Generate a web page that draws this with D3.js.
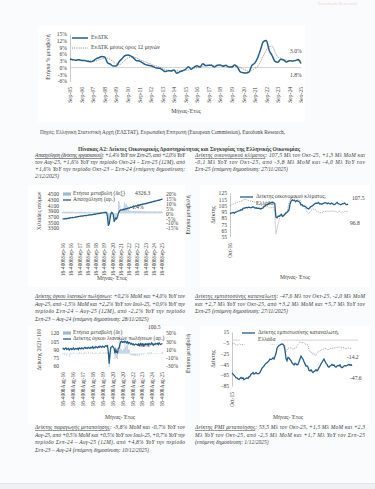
<!DOCTYPE html>
<html><head><meta charset="utf-8">
<script src="https://cdn.jsdelivr.net/npm/d3@7"></script>
<style>body{margin:0;background:#fbfbfc;overflow:hidden}svg{display:block}</style>
</head><body>
<svg id="c" width="375" height="489"></svg>
<script>
// ---------- DATA ----------
// Top chart: HICP annual % change, quarterly from Sep-05 to Sep-25
const hicp = [3.8,3.5, 3.3,3.5,3.2,3.2, 2.8,2.6,2.9,3.9, 4.4,4.9,4.7,2.2, 1.5,0.7,0.7,2.6, 3.9,5.3,5.6,5.2,
  4.3,3.1,2.9,2.2, 1.4,1.0,0.8,0.3, -0.2,-0.3,-1.0,-1.8, -1.4,-1.5,-1.1,-2.5, -1.9,-1.4,-0.8,0.4,
  -0.7,0.2,0.8,0.3, 1.7,0.9,1.0,1.0, 0.2,1.0,1.1,0.6, 1.0,0.2,0.2,1.1, 0.2,-1.9,-2.3,-2.4,
  -2.0,1.0,2.0,4.4, 8.0,11.6,12.1,7.6, 5.4,2.8,2.4,3.7, 3.4,2.5,3.1,2.9, 3.1,3.6,1.8];
const hicpAvg = [3.5,3.5, 3.4,3.4,3.3,3.3, 3.2,3.0,2.9,3.0, 3.4,3.8,4.2,4.2, 3.6,2.6,1.6,1.3, 2.0,3.2,4.3,4.7,
  4.8,4.3,3.7,3.1, 2.6,2.0,1.6,1.0, 0.7,0.2,-0.2,-0.9, -1.2,-1.3,-1.4,-1.4, -1.6,-1.4,-1.2,-1.1,
  -0.5,-0.2,0.0,0.0, 0.5,0.8,1.1,1.1, 0.8,0.8,0.8,0.8, 0.8,0.6,0.5,0.5, 0.6,0.0,-0.7,-1.3,
  -1.8,-1.3,-0.4,0.6, 2.7,5.3,7.9,9.3, 9.6,7.0,4.8,4.2, 3.5,3.3,3.1,3.0, 3.0,3.1,3.0];
const topYTicks = [-6,-3,0,3,6,9,12,15];
const topXYears = d3.range(2005, 2026);

// Employment (thousands), monthly Sep-15 .. Sep-25
const employment = [3620,3625,3618,3630,
 3635,3628,3640,3650,3645,3660,3655,3662,3670,3665,3672,3680,
 3690,3685,3700,3705,3712,3708,3720,3725,3718,3730,3735,3740,
 3745,3738,3750,3760,3755,3765,3770,3762,3775,3780,3790,3785,
 3795,3800,3805,3812,3808,3820,3830,3825,3835,3840,3850,3845,
 3855,3840,3700,3380,3450,3620,3800,3850,3830,3760,3520,3600,
 3650,3620,3700,3820,3880,3920,3940,3935,3950,3960,3945,3970,
 3980,3975,3990,4010,4000,4020,4035,4030,4045,4060,4050,4070,
 4080,4075,4090,4110,4100,4120,4130,4125,4140,4150,4145,4160,
 4170,4165,4180,4195,4190,4205,4215,4210,4225,4240,4235,4250,
 4260,4255,4270,4285,4280,4295,4305,4310,4326.3];
const employmentYoY = [1.8,2.0,1.5,1.9,
 2.1,1.5,2.0,1.8,1.6,2.2,1.5,1.8,2.0,1.2,1.6,1.4,
 1.5,1.6,1.6,1.5,1.8,1.3,1.8,1.7,1.3,1.8,1.7,1.6,
 1.5,1.4,1.4,1.5,1.2,1.6,1.4,1.0,1.5,1.3,1.5,1.2,
 1.3,1.6,1.5,1.4,1.4,1.4,1.6,1.7,1.6,1.6,1.6,1.6,
 1.6,1.0,-2.8,-11.3,-9.5,-5.2,-0.8,0.7,-0.1,-2.1,-8.5,-6.3,
 -5.3,-5.7,0.0,13.0,12.4,8.3,3.6,2.2,3.1,5.3,12.1,10.3,
 9.0,9.9,7.8,5.0,3.0,3.1,2.4,2.4,2.4,2.5,2.6,2.5,
 2.5,2.5,2.5,2.5,2.5,2.5,2.3,2.4,2.4,2.2,2.4,2.2,
 2.2,2.2,2.2,2.1,2.2,2.1,2.1,2.1,2.1,2.2,2.2,2.2,
 2.1,2.1,2.1,2.0,2.1,2.1,2.1,2.3,1.4];
const empLeftTicks = [3300,3500,3700,3900,4100,4300,4500];
const empRightTicks = [-15,-10,-5,0,5,10,15,20];
const empXLabels = ["18-4008Sep-16","18-4008Sep-16","18-4008Sep-17","18-4008Sep-18","18-4008Sep-18","18-4008Sep-19","18-4008Sep-20","18-4008Sep-21","18-4008Sep-22","18-4008Sep-22","18-4008Sep-23","18-4008Sep-24","18-4008Sep-25"];

// Economic sentiment, monthly Oct-16 .. Oct-25
const esiGreece = [92.0,93.0,93.5,
 94.0,93.0,94.5,95.0,96.0,96.5,97.0,98.5,98.0,100.5,101.0,101.5,
 102.0,101.5,102.5,102.0,101.5,102.0,103.0,102.0,101.0,101.5,100.5,101.0,
 100.5,99.5,100.5,101.0,103.0,104.5,106.0,106.0,107.5,108.5,109.5,110.0,
 110.5,109.5,108.0,87.0,85.5,88.0,88.0,89.5,91.0,88.0,89.0,91.0,
 93.0,94.0,96.0,98.0,108.0,112.5,114.0,113.0,113.5,111.0,113.0,112.0,
 111.5,110.0,106.0,106.5,104.0,104.5,103.5,101.5,100.5,99.5,101.5,103.5,
 104.0,105.5,107.0,108.5,109.0,108.5,110.0,107.5,108.0,107.0,108.0,109.0,
 109.5,109.0,108.0,109.0,108.0,107.5,109.0,108.0,106.5,107.0,108.5,110.0,
 108.0,107.5,106.5,107.0,108.0,108.0,109.0,107.0,106.2,107.5];
const esiEU = [104.5,105.5,107.0,
 107.5,108.5,108.5,109.5,110.0,110.5,111.5,112.0,112.5,114.0,114.5,114.5,
 114.5,113.5,112.5,112.5,112.0,111.5,111.5,110.5,110.5,109.5,108.5,107.5,
 106.5,105.5,105.5,104.0,105.5,103.5,102.5,104.0,102.5,101.5,101.5,101.5,
 102.5,103.0,94.0,60.0,67.5,75.5,82.5,87.5,90.5,90.5,87.5,90.5,
 91.5,93.5,100.5,110.5,114.0,117.5,118.5,117.5,117.5,118.0,117.5,115.5,
 112.5,114.0,108.0,105.0,105.0,104.0,99.0,97.5,93.5,92.5,94.0,96.5,
 99.8,99.5,99.0,99.0,96.5,95.5,94.5,93.5,93.5,93.5,93.8,96.4,
 96.2,95.4,96.3,95.6,96.0,95.9,95.8,96.6,96.3,95.6,95.8,93.7,
 95.2,96.3,95.2,93.6,94.8,94.0,95.8,95.2,95.5,96.8];
const esiTicks = [55,65,75,85,95,105,115,125];

// Retail sales volume (2021=100) and YoY %, monthly Aug-15 .. Aug-25
const retail = [91,92,90,92,93,
 90,91,92,89,91,92,90,91,93,90,91,92,
 91,92,90,93,92,91,93,92,91,93,94,92,
 93,92,94,93,92,94,93,95,92,94,93,95,
 94,93,95,94,96,95,94,96,95,94,96,97,
 96,97,85,64,82,94,95,96,94,92,83,90,
 85,84,92,93,100,104,105,103,104,103,105,104,
 102,104,101,103,102,100,101,99,100,98,99,100,
 99,98,100,97,99,101,98,100,97,99,98,100,
 99,100,98,101,100,99,102,100,98,100,99,101,
 100,101,99,102,100,99,100.3,100.5];
const retailYoY = [-2,1,-4,3,0,
 -5,2,0,-8,-1,3,-2,1,3,-1,0,2,
 1,1,-2,4,1,-1,3,1,-2,3,3,0,
 2,0,4,0,0,3,0,3,1,1,-1,3,
 1,1,1,1,4,1,1,1,3,0,3,2,
 2,4,-11,-32,-12,-1,2,0,-1,-2,-14,-7,
 -11,-14,8,45,22,11,11,7,11,12,27,16,
 20,24,10,11,2,-4,-4,-4,-4,-5,-6,-4,
 -3,-6,-1,-6,-3,1,-3,1,-3,1,-1,0,
 0,2,-2,4,1,-2,4,0,1,1,1,1,
 1,1,1,1,0,0,2.2,4.0];
const retailLeftTicks = [60,75,90,105,120];
const retailRightTicks = [-30,-10,10,30,50];
const retailXLabels = ["18-4008Aug-16","18-4008Aug-16","18-4008Aug-17","18-4008Aug-18","18-4008Aug-19","18-4008Aug-20","18-4008Aug-20","18-4008Aug-22","18-4008Aug-23","18-4008Aug-24","18-4008Aug-25"];

// Consumer confidence, monthly Oct-15 .. Oct-25
const ccGreece = [-61,-63,-65,
 -67,-70,-70,-72,-73,-71,-69,-71,-70,-73,-72,-71,
 -70,-71,-68,-67,-63,-62,-60,-63,-62,-60,-62,-62,
 -62,-60,-56,-52,-50,-48,-45,-43,-42,-40,-38,-35,
 -36,-35,-33,-35,-30,-25,-15,-12,-10,-9,-8,-7,
 -8,-10,-19,-34,-38,-32,-33,-36,-38,-42,-44,-46,
 -43,-44,-46,-45,-40,-35,-30,-33,-35,-40,-44,-48,
 -48,-50,-56,-57,-55,-58,-60,-58,-57,-55,-57,-55,
 -51,-48,-44,-41,-38,-35,-39,-43,-45,-49,-50,-48,
 -47,-45,-47,-46,-49,-50,-48,-47,-48,-46,-50,-51,
 -50,-48,-47,-48,-47,-46,-45,-47,-45.6,-47.6];
const ccEU = [-7.5,-6.0,-5.7,
 -6.3,-8.8,-9.7,-9.3,-7.0,-7.3,-7.9,-8.5,-8.2,-8.0,-6.2,-5.1,
 -4.8,-6.2,-5.0,-3.6,-3.3,-1.3,-1.7,-1.5,-1.2,-1.0,0.1,0.5,
 1.3,0.1,0.1,0.4,0.2,-0.5,-0.6,-1.9,-2.9,-2.7,-3.9,-6.2,
 -7.9,-7.4,-7.2,-7.9,-6.5,-7.2,-6.6,-7.1,-6.5,-7.6,-7.2,-8.1,
 -8.1,-6.6,-11.6,-22.0,-18.8,-14.7,-15.0,-14.7,-13.9,-15.5,-17.6,-14.5,
 -15.5,-14.8,-10.8,-8.1,-5.1,-3.3,-4.4,-5.3,-4.0,-4.8,-6.8,-8.3,
 -8.5,-8.8,-18.7,-22.0,-21.2,-23.6,-27.0,-24.9,-28.7,-27.5,-23.9,-22.2,
 -20.7,-19.1,-19.2,-17.5,-17.4,-16.1,-15.1,-16.0,-17.8,-17.9,-16.9,-15.0,
 -16.1,-15.5,-14.9,-14.7,-14.3,-14.0,-13.0,-13.5,-12.9,-12.5,-13.7,-14.5,
 -14.2,-13.6,-14.5,-16.7,-15.2,-15.3,-14.7,-15.5,-14.9,-14.2];
const ccTicks = [-85,-65,-45,-25,-5,15];

// ---------- STYLE ----------
const SERIF = "'Liberation Serif','DejaVu Serif',serif";
const INK = "#3c3c3c";
const TEAL = "#235e8b";
const LIGHT = "#9db8d0";
const GREY = "#8f8f8f";
const AX = "#c9c9c9";
const fmtInt = d3.format("d");

const svg = d3.select("#c").style("font-family", SERIF);
const defs = svg.append("defs");

// page background
svg.append("rect").attr("x",0).attr("y",0).attr("width",375).attr("height",489).attr("fill","#eef0f3");
svg.append("rect").attr("x",0).attr("y",0).attr("width",375).attr("height",483).attr("fill","#fafbfc");
svg.append("line").attr("x1",0).attr("x2",375).attr("y1",483.5).attr("y2",483.5).attr("stroke","#e0e3e7");
svg.append("text").attr("x",318).attr("y",5).attr("font-size",5).attr("fill","#f5d3d5").text("Eurobank Research");

function whiteBox(x,y,w,h){ svg.append("rect").attr("x",x).attr("y",y).attr("width",w).attr("height",h).attr("fill","#ffffff"); }
function txt(g,x,y,s,size,opts={}){
  const t = g.append("text").attr("x",x).attr("y",y).attr("font-size",size).attr("fill",opts.fill||INK)
    .attr("dominant-baseline","middle").text(s);
  if(opts.anchor) t.attr("text-anchor",opts.anchor);
  if(opts.rotate!==undefined) t.attr("transform",`rotate(${opts.rotate},${x},${y})`);
  if(opts.weight) t.attr("font-weight",opts.weight);
  if(opts.style) t.attr("font-style",opts.style);
  return t;
}
function styleAxis(sel, size){
  sel.selectAll("text").attr("font-family",SERIF).attr("font-size",size).attr("fill",INK);
  sel.selectAll("path.domain").attr("stroke",AX);
  sel.selectAll(".tick line").attr("stroke",AX);
}
function rotateLabels(sel){
  sel.selectAll("text").attr("transform","rotate(-90)").attr("text-anchor","end")
    .attr("x",-3).attr("y",0).attr("dy","0.32em");
}

// ---------- TOP CHART ----------
whiteBox(38,26,267,96);
defs.append("clipPath").attr("id","clipTop").append("rect").attr("x",38).attr("y",26).attr("width",265).attr("height",96);
const gTop = svg.append("g").attr("clip-path","url(#clipTop)");
const tStart = new Date(2005,8,1), tEnd = new Date(2025,8,1);
const topDates = hicp.map((_,i)=>d3.timeMonth.offset(tStart,i*3));
const xT = d3.scaleTime().domain([tStart,tEnd]).range([70,301]);
const yT = d3.scaleLinear().domain([-6,15]).range([81,34]);
gTop.append("g").attr("transform","translate(70,0)")
  .call(d3.axisLeft(yT).tickValues(topYTicks).tickFormat(d=>d+"%").tickSize(0).tickPadding(3))
  .call(s=>styleAxis(s,5.6));
gTop.append("line").attr("x1",70).attr("x2",301).attr("y1",yT(0)).attr("y2",yT(0)).attr("stroke",AX).attr("stroke-width",0.8);
gTop.append("g").attr("transform","translate(0,84)")
  .call(d3.axisBottom(xT).tickValues(topXYears.map(y=>new Date(y,8,1))).tickFormat(d3.timeFormat("%b-%y")).tickSize(0))
  .call(s=>{styleAxis(s,5.6); s.select("path.domain").remove(); rotateLabels(s);});
gTop.append("path").datum(hicpAvg).attr("fill","none").attr("stroke","#7a7a7a").attr("stroke-width",0.9)
  .attr("stroke-dasharray","1,1.2")
  .attr("d",d3.line().x((d,i)=>xT(topDates[i])).y(d=>yT(d)).curve(d3.curveMonotoneX));
gTop.append("path").datum(hicp).attr("fill","none").attr("stroke",TEAL).attr("stroke-width",1.5)
  .attr("d",d3.line().x((d,i)=>xT(topDates[i])).y(d=>yT(d)).curve(d3.curveMonotoneX));
gTop.append("line").attr("x1",72).attr("x2",88).attr("y1",38).attr("y2",38).attr("stroke",TEAL).attr("stroke-width",1.5);
txt(gTop,91,38,"ΕνΔΤΚ",5.8);
gTop.append("line").attr("x1",72).attr("x2",88).attr("y1",48).attr("y2",48).attr("stroke","#7a7a7a").attr("stroke-width",0.9).attr("stroke-dasharray","1,1.2");
txt(gTop,91,48,"ΕνΔΤΚ μέσος όρος 12 μηνών",5.8);
txt(gTop,290,52,"3.0%",5.6);
txt(gTop,290,76,"1.8%",5.6);
txt(gTop,49,57,"Ετήσια % μεταβολή",5.6,{anchor:"middle",rotate:-90});
txt(gTop,186,112,"Μήνας-Έτος",5.8,{anchor:"middle"});

// ---------- SOURCE / TITLE / PARAGRAPHS ----------
txt(svg,40,133,"Πηγές: Ελληνική Στατιστική Αρχή (ΕΛΣΤΑΤ), Ευρωπαϊκή Επιτροπή (European Commission), Eurobank Research,",5.3);
txt(svg,189,150,"Πίνακας Α2: Δείκτες Οικονομικής Δραστηριότητας και Συγκυρίας της Ελληνικής Οικονομίας",6.0,{anchor:"middle",weight:"bold"}).attr("textLength",222).attr("lengthAdjust","spacingAndGlyphs");

function para(x, ys, width, lines, underlineLen){
  lines.forEach((l,i)=>{
    const t = txt(svg,x,ys[i],"",5.5,{style:"italic"});
    if(i===0 && underlineLen){
      t.append("tspan").attr("text-decoration","underline").text(l[0]);
      t.append("tspan").text(l[1]);
    } else t.text(Array.isArray(l)?l.join(""):l);
    if(i<lines.length-1) t.attr("textLength",width).attr("lengthAdjust","spacing");
  });
}
para(35,[156,163,170,177],150,[["Απασχόληση (δείκτης εργασιακού)",": +1,4% ΥοΥ τον Σεπ-25, από +2,0% ΥοΥ"],
  "τον Αυγ-25, +1,6% ΥοΥ την περίοδο Οκτ-24 – Σεπ-25 (12Μ), από",
  "+1,6% ΥοΥ την περίοδο Οκτ-23 – Σεπ-24 (επόμενη δημοσίευση:",
  "2/12/2025)"],true);
para(195,[156,163,170],170,[["Δείκτης οικονομικού κλίματος",": 107,5 Μλ τον Οκτ-25, +1,3 Μλ ΜοΜ και"],
  "-0,1 Μλ ΥοΥ τον Οκτ-25, από -3,8 Μλ ΜοΜ και -4,0 Μλ ΥοΥ τον",
  "Σεπ-25 (επόμενη δημοσίευση: 27/11/2025)"],true);
para(35,[297,305,312,320],150,[["Δείκτης όγκου λιανικών πωλήσεων",": +0,2% ΜοΜ και +4,0% ΥοΥ τον"],
  "Αυγ-25, από -1,5% ΜοΜ και +2,2% ΥοΥ τον Ιουλ-25, +0,9% ΥοΥ την",
  "περίοδο Σεπ-24 – Αυγ-25 (12Μ), από -2,2% ΥοΥ την περίοδο",
  "Σεπ-23 – Αυγ-24 (επόμενη δημοσίευση: 28/11/2025)"],true);
para(195,[297,305,312],170,[["Δείκτης εμπιστοσύνης καταναλωτή",": -47,6 Μλ τον Οκτ-25, -2,0 Μλ ΜοΜ"],
  "και +2,7 Μλ ΥοΥ τον Οκτ-25, από +3,2 Μλ ΜοΜ και +5,7 Μλ ΥοΥ τον",
  "Σεπ-25 (επόμενη δημοσίευση: 27/11/2025)"],true);
para(35,[428,436,443,451],150,[["Δείκτης παραγωγής μεταποίησης",": -3,8% ΜοΜ και -0,7% ΥοΥ τον"],
  "Αυγ-25, από +0,5% ΜοΜ και +0,5% ΥοΥ τον Ιουλ-25, +0,7% ΥοΥ την",
  "περίοδο Σεπ-24 – Αυγ-25 (12Μ), από +4,8% ΥοΥ την περίοδο",
  "Σεπ-23 – Αυγ-24 (επόμενη δημοσίευση: 10/12/2025)"],true);
para(195,[428,436,443],170,[["Δείκτης PMI μεταποίησης",": 53,5 Μλ τον Οκτ-25, +1,5 Μλ ΜοΜ και +2,3"],
  "Μλ ΥοΥ τον Οκτ-25, από -2,5 Μλ ΜοΜ και +1,7 Μλ ΥοΥ τον Σεπ-25",
  "(επόμενη δημοσίευση: 1/12/2025)"],true);

// ---------- DUAL AXIS CHARTS (left column) ----------
function dualChart(o){
  whiteBox(o.box[0],o.box[1],o.box[2],o.box[3]);
  const g = svg.append("g");
  const n = o.line.length;
  const x = d3.scaleBand().domain(d3.range(n)).range([o.x0,o.x1]).padding(0.35);
  const yL = d3.scaleLinear().domain(o.leftDom).range([o.yb,o.yt]);
  const yR = d3.scaleLinear().domain(o.rightDom).range([o.yb,o.yt]);
  g.append("g").attr("transform",`translate(${o.x0},0)`)
    .call(d3.axisLeft(yL).tickValues(o.leftTicks).tickFormat(fmtInt).tickSize(0).tickPadding(3))
    .call(s=>{styleAxis(s,5.6); s.select("path.domain").remove();});
  g.append("g").attr("transform",`translate(${o.x1},0)`)
    .call(d3.axisRight(yR).tickValues(o.rightTicks).tickFormat(d=>d+"%").tickSize(0).tickPadding(3))
    .call(s=>{styleAxis(s,5.6); s.select("path.domain").remove();});
  g.selectAll("rect.bar").data(o.bars).join("rect").attr("class","bar")
    .attr("x",(d,i)=>x(i)).attr("width",x.bandwidth())
    .attr("y",d=>Math.min(yR(d),yR(0))).attr("height",d=>Math.abs(yR(d)-yR(0)))
    .attr("fill",LIGHT);
  g.append("path").datum(o.line).attr("fill","none").attr("stroke",TEAL).attr("stroke-width",1.3)
    .attr("d",d3.line().x((d,i)=>x(i)+x.bandwidth()/2).y(d=>yL(d)));
  const xl = d3.scalePoint().domain(d3.range(o.xLabels.length)).range([o.x0+1,o.x1-1]);
  g.append("g").attr("transform",`translate(0,${o.labTop})`)
    .call(d3.axisBottom(xl).tickFormat(i=>o.xLabels[i]).tickSize(0))
    .call(s=>{styleAxis(s,5.4); s.select("path.domain").remove(); rotateLabels(s);});
  // legend
  g.append("rect").attr("x",o.x0+1).attr("y",o.legY-1.6).attr("width",8).attr("height",3.2).attr("fill",LIGHT);
  txt(g,o.x0+11,o.legY,o.leg1,5.6);
  g.append("line").attr("x1",o.x0+1).attr("x2",o.x0+9).attr("y1",o.legY+6).attr("y2",o.legY+6).attr("stroke",TEAL).attr("stroke-width",1.3);
  txt(g,o.x0+11,o.legY+6,o.leg2,5.6);
  o.labels.forEach(l=>txt(g,l[0],l[1],l[2],5.6));
  txt(g,o.titleLX,(o.yt+o.yb)/2,o.titleL,5.6,{anchor:"middle",rotate:-90});
  txt(g,o.titleRX,(o.yt+o.yb)/2+4,"Ετήσια μεταβολή",5.6,{anchor:"middle",rotate:-90});
  txt(g,o.xTitle[0],o.xTitle[1],"Μήνας- Έτος",5.6,{anchor:"middle"});
}
dualChart({box:[28,185,157,102], x0:62, x1:163, yt:194, yb:228, leftDom:[3300,4500], leftTicks:empLeftTicks,
  rightDom:[-15,20], rightTicks:empRightTicks, line:employment, bars:employmentYoY, xLabels:empXLabels, labTop:240,
  legY:194, leg1:"Ετήσια μεταβολή (δεξ)", leg2:"Απασχόληση (αρ.)",
  labels:[[135,194,"4326.3"],[132,208,"1.4%"]], titleLX:40, titleRX:189, titleL:"Χιλιάδες ατόμων", xTitle:[112,279]});
dualChart({box:[28,326,157,98], x0:62, x1:163, yt:333, yb:366, leftDom:[60,120], leftTicks:retailLeftTicks,
  rightDom:[-30,50], rightTicks:retailRightTicks, line:retail, bars:retailYoY, xLabels:retailXLabels, labTop:369,
  legY:333, leg1:"Ετήσια μεταβολή (δε)", leg2:"Δείκτης όγκου λιανικών πωλήσεων (αρ.)",
  labels:[[148,328,"100.5"],[138,346,"4.0%"]], titleLX:40, titleRX:189, titleL:"Δείκτης 2021=100", xTitle:[120,418]});

// ---------- SINGLE AXIS CHARTS (right column) ----------
function singleChart(o){
  whiteBox(o.box[0],o.box[1],o.box[2],o.box[3]);
  const g = svg.append("g");
  const n = o.a.length;
  const x = d3.scaleLinear().domain([0,n-1]).range([o.x0,o.x1]);
  const y = d3.scaleLinear().domain(o.dom).range([o.yb,o.yt]);
  g.append("g").attr("transform",`translate(${o.x0},0)`)
    .call(d3.axisLeft(y).tickValues(o.ticks).tickSize(0).tickPadding(3))
    .call(s=>{styleAxis(s,5.6);});
  if(o.zero) g.append("line").attr("x1",o.x0).attr("x2",o.x1+6).attr("y1",y(0)).attr("y2",y(0)).attr("stroke",AX).attr("stroke-width",0.8);
  g.append("path").datum(o.b).attr("fill","none").attr("stroke",GREY).attr("stroke-width",0.8).attr("stroke-dasharray","1,1")
    .attr("d",d3.line().x((d,i)=>x(i)).y(d=>y(d)));
  if(o.legBg) g.append("rect").attr("x",o.legBg[0]).attr("y",o.legBg[1]).attr("width",o.legBg[2]).attr("height",o.legBg[3]).attr("fill","#fff");
  g.append("path").datum(o.a).attr("fill","none").attr("stroke",TEAL).attr("stroke-width",1.3)
    .attr("d",d3.line().x((d,i)=>x(i)).y(d=>y(d)));
  g.append("g").attr("transform",`translate(0,${o.labTop})`)
    .call(d3.axisBottom(d3.scalePoint().domain([o.xLabel]).range([o.x0,o.x0])).tickSize(0))
    .call(s=>{styleAxis(s,5.4); s.select("path.domain").remove(); rotateLabels(s);});
  g.append("line").attr("x1",o.legX).attr("x2",o.legX+13).attr("y1",o.legY).attr("y2",o.legY).attr("stroke",TEAL).attr("stroke-width",1.3);
  txt(g,o.legX+16,o.legY,o.leg,5.6);
  txt(g,o.legX+16,o.legY+7,"Ελλάδα",5.6);
  o.labels.forEach(l=>txt(g,l[0],l[1],l[2],5.6));
  txt(g,o.titleX,(o.yt+o.yb)/2,"Δείκτης",5.6,{anchor:"middle",rotate:-90});
  txt(g,o.xTitle[0],o.xTitle[1],"Μήνας- Έτος",5.6,{anchor:"middle"});
}
singleChart({box:[200,185,170,102], x0:230, x1:348, yt:193, yb:237, dom:[55,125], ticks:esiTicks,
  a:esiGreece, b:esiEU, xLabel:"Oct-16", labTop:240, legX:240, legY:197,
  leg:"Δείκτης οικονομικού κλίματος,", labels:[[352,199,"107.5"],[350,224,"96.8"]], titleX:214, xTitle:[295,278]});
singleChart({box:[200,326,170,98], x0:232, x1:352, yt:332, yb:386, dom:[-85,15], ticks:ccTicks, zero:true,
  a:ccGreece, b:ccEU, xLabel:"Oct-15", labTop:389, legX:242, legY:333, legBg:[240,329,41,15],
  leg:"Δείκτης εμπιστοσύνης καταναλωτή,", labels:[[347,358,"-14.2"],[350,379,"-47.6"]], titleX:214, xTitle:[288,418]});
</script>
</body></html>
